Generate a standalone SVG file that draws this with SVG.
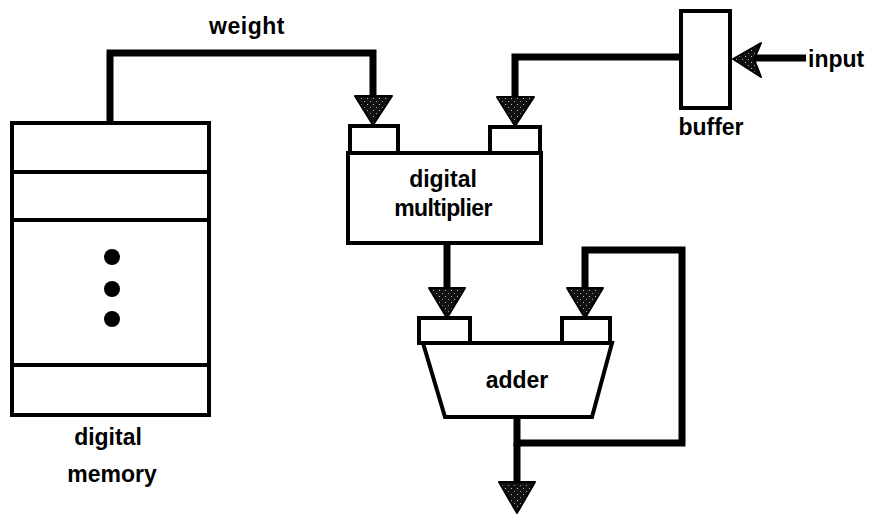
<svg xmlns="http://www.w3.org/2000/svg" width="873" height="518" viewBox="0 0 873 518">
  <style>
    .box { fill: #fff; stroke: #000; stroke-width: 4; stroke-linejoin: miter; }
    .wire { fill: none; stroke: #000; stroke-width: 7; stroke-linejoin: miter; }
    .head { fill: url(#stipple); stroke: #000; stroke-width: 2; stroke-linejoin: round; }
    .lbl { font-family: "Liberation Sans", Arial, sans-serif; font-weight: bold; font-size: 23px; fill: #000; }
  </style>
  <defs>
    <pattern id="stipple" width="6" height="6" patternUnits="userSpaceOnUse">
      <rect width="6" height="6" fill="#111"/>
      <rect x="1" y="2" width="1" height="1" fill="#bbb"/>
      <rect x="4" y="5" width="1" height="1" fill="#999"/>
    </pattern>
  </defs>
  <rect width="873" height="518" fill="#fff"/>

  <!-- connectors -->
  <g id="connectors">
    <path class="wire" d="M110,123 V53 H373 V97"/>
    <polygon class="head" points="355,96 392,96 373,125"/>

    <path class="wire" d="M680,57 H515 V98"/>
    <polygon class="head" points="497,97 534,97 515,126"/>

    <path class="wire" d="M806,58 H755"/>
    <polygon class="head" points="733,59 761,43 754,59 761,77"/>

    <path class="wire" d="M447,243 V290"/>
    <polygon class="head" points="429,288 465,288 447,318"/>

    <path class="wire" d="M517,417 V443 H682 V250 H585 V290"/>
    <polygon class="head" points="567,288 603,288 585,318"/>

    <path class="wire" d="M517,443 V484"/>
    <polygon class="head" points="499,482 535,482 517,513"/>
  </g>

  <!-- digital memory -->
  <g id="memory">
    <rect class="box" x="12" y="123" width="197" height="292"/>
    <line class="box" x1="12" y1="172" x2="209" y2="172"/>
    <line class="box" x1="12" y1="220" x2="209" y2="220"/>
    <line class="box" x1="12" y1="365" x2="209" y2="365"/>
    <circle cx="112" cy="257" r="8"/>
    <circle cx="112" cy="289" r="8"/>
    <circle cx="112" cy="319" r="8"/>
    <text class="lbl" x="108" y="445" text-anchor="middle">digital</text>
    <text class="lbl" x="112" y="482" text-anchor="middle">memory</text>
  </g>

  <!-- weight label -->
  <g id="weight-label">
    <text class="lbl" x="247" y="34" text-anchor="middle" letter-spacing="0.5">weight</text>
  </g>

  <!-- digital multiplier -->
  <g id="multiplier">
    <rect class="box" x="348" y="153" width="193" height="90"/>
    <rect class="box" x="350" y="126" width="48" height="27"/>
    <rect class="box" x="490" y="127" width="50" height="26"/>
    <text class="lbl" x="443" y="187" text-anchor="middle">digital</text>
    <text class="lbl" x="443" y="216" text-anchor="middle" letter-spacing="-0.6">multiplier</text>
  </g>

  <!-- buffer -->
  <g id="buffer">
    <rect class="box" x="681" y="11" width="49" height="97"/>
    <text class="lbl" x="711" y="135" text-anchor="middle">buffer</text>
  </g>

  <!-- input label -->
  <g id="input-label">
    <text class="lbl" x="808" y="67">input</text>
  </g>

  <!-- adder -->
  <g id="adder">
    <rect class="box" x="419" y="318" width="51" height="25"/>
    <rect class="box" x="562" y="318" width="48" height="25"/>
    <polygon class="box" points="423,343 612,343 592,417 445,417"/>
    <text class="lbl" x="517" y="388" text-anchor="middle">adder</text>
  </g>
</svg>
